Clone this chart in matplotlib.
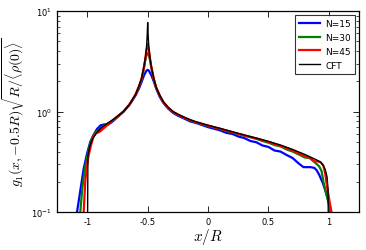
import matplotlib
matplotlib.use("Agg")
import matplotlib.pyplot as plt
from matplotlib.ticker import FixedLocator, FixedFormatter, LogLocator, NullFormatter

plt.rcParams["mathtext.fontset"] = "cm"

# ---- data ----
cft_x = [-1.0, -0.995, -0.985, -0.975, -0.96, -0.95, -0.92, -0.89, -0.85, -0.8, -0.75, -0.7,
         -0.65, -0.6, -0.57, -0.55, -0.53, -0.52, -0.51, -0.505, -0.5,
         -0.495, -0.49, -0.48, -0.47, -0.45, -0.43, -0.4, -0.37, -0.33, -0.29, -0.25,
         -0.2, -0.15, -0.1, -0.05, 0.0, 0.1, 0.2, 0.3, 0.4, 0.5, 0.6, 0.7, 0.8, 0.9,
         0.93, 0.95, 0.97, 0.985, 0.993, 0.998]
cft_y = [0.02, 0.36, 0.42, 0.47, 0.52, 0.55, 0.62, 0.68, 0.74, 0.81, 0.9, 1.0,
         1.18, 1.48, 1.82, 2.15, 2.85, 3.4, 4.3, 5.4, 7.7,
         5.4, 4.3, 3.35, 2.8, 2.15, 1.75, 1.45, 1.25, 1.1, 1.0, 0.94,
         0.88, 0.83, 0.79, 0.76, 0.73, 0.68, 0.63, 0.585, 0.545, 0.505, 0.465, 0.42, 0.375, 0.33,
         0.315, 0.295, 0.265, 0.225, 0.17, 0.05]

n15_x = [-1.11, -1.085, -1.058, -1.03, -1.0, -0.975, -0.95, -0.92, -0.89, -0.86, -0.83, -0.8,
         -0.75, -0.7, -0.65, -0.6, -0.57, -0.55, -0.53, -0.51, -0.5, -0.49, -0.47, -0.45,
         -0.43, -0.4, -0.37, -0.33, -0.29, -0.25, -0.2, -0.15, -0.1, -0.05, 0.0, 0.05, 0.1,
         0.15, 0.2, 0.25, 0.3, 0.35, 0.4, 0.45, 0.5, 0.55, 0.6, 0.65, 0.7, 0.75, 0.79, 0.85,
         0.88, 0.9, 0.92, 0.95, 0.97, 1.0, 1.02, 1.045]
n15_y = [0.075, 0.1, 0.163, 0.27, 0.39, 0.5, 0.58, 0.67, 0.73, 0.745, 0.74, 0.78,
         0.88, 1.0, 1.17, 1.45, 1.72, 1.98, 2.3, 2.55, 2.6, 2.55, 2.3, 2.0,
         1.7, 1.4, 1.22, 1.07, 0.97, 0.91, 0.855, 0.8, 0.77, 0.735, 0.7, 0.675, 0.65,
         0.615, 0.6, 0.565, 0.545, 0.51, 0.495, 0.46, 0.445, 0.41, 0.4, 0.37, 0.345, 0.305, 0.28, 0.28,
         0.275, 0.26, 0.235, 0.195, 0.165, 0.125, 0.1, 0.075]

n30_x = [-1.075, -1.058, -1.04, -1.02, -1.0, -0.98, -0.95, -0.92, -0.9, -0.87, -0.83, -0.8,
         -0.75, -0.7, -0.65, -0.6, -0.57, -0.55, -0.53, -0.52, -0.51, -0.5, -0.49, -0.48,
         -0.47, -0.45, -0.43, -0.4, -0.37, -0.33, -0.29, -0.25, -0.2, -0.15, -0.1, -0.05, 0.0,
         0.1, 0.2, 0.3, 0.4, 0.45, 0.5, 0.55, 0.6, 0.65, 0.7, 0.75, 0.8, 0.84, 0.88, 0.92,
         0.94, 0.955, 0.98, 1.0, 1.025]
n30_y = [0.075, 0.1, 0.18, 0.27, 0.36, 0.46, 0.58, 0.64, 0.66, 0.72, 0.76, 0.8,
         0.89, 1.0, 1.18, 1.47, 1.8, 2.1, 2.75, 3.25, 3.62, 3.8, 3.62, 3.25,
         2.75, 2.1, 1.73, 1.44, 1.24, 1.09, 0.99, 0.93, 0.87, 0.82, 0.78, 0.75, 0.72,
         0.67, 0.62, 0.575, 0.535, 0.51, 0.49, 0.465, 0.45, 0.42, 0.4, 0.375, 0.35, 0.345, 0.315, 0.285,
         0.255, 0.2, 0.15, 0.12, 0.08]

n45_x = [-1.045, -1.03, -1.017, -1.0, -0.99, -0.97, -0.95, -0.93, -0.91, -0.89, -0.86, -0.83,
         -0.8, -0.75, -0.7, -0.65, -0.6, -0.57, -0.55, -0.53, -0.52, -0.51, -0.5, -0.49,
         -0.48, -0.47, -0.45, -0.43, -0.4, -0.37, -0.33, -0.29, -0.25, -0.2, -0.15, -0.1,
         -0.05, 0.0, 0.1, 0.2, 0.3, 0.4, 0.5, 0.6, 0.65, 0.7, 0.75, 0.8, 0.85, 0.88, 0.9,
         0.93, 0.955, 0.97, 0.985, 1.0, 1.035]
n45_y = [0.075, 0.1, 0.2, 0.3, 0.36, 0.46, 0.56, 0.61, 0.62, 0.64, 0.69, 0.74,
         0.8, 0.895, 1.0, 1.18, 1.48, 1.81, 2.13, 2.8, 3.3, 4.1, 4.7, 4.1,
         3.3, 2.78, 2.13, 1.74, 1.44, 1.24, 1.09, 0.995, 0.935, 0.875, 0.825, 0.785,
         0.755, 0.725, 0.675, 0.625, 0.58, 0.54, 0.5, 0.455, 0.435, 0.41, 0.385, 0.36, 0.345, 0.32, 0.32,
         0.315, 0.29, 0.24, 0.18, 0.14, 0.08]

x_ticks = [-1, -0.5, 0, 0.5, 1]
x_tick_labels = ["-1", "-0.5", "0", "0.5", "1"]

# ---- figure ----
fig = plt.figure(figsize=(3.66, 2.51), dpi=100)
ax = fig.add_axes([0.156, 0.151, 0.825, 0.801])

ax.semilogy(n15_x, n15_y, color=(0, 0, 1), lw=1.6, label="N=15")
ax.semilogy(n30_x, n30_y, color=(0, 0.5, 0), lw=1.6, label="N=30")
ax.semilogy(n45_x, n45_y, color=(1, 0, 0), lw=1.6, label="N=45")
ax.semilogy(cft_x, cft_y, color="k", lw=1.0, label="CFT")

ax.set_xlim(-1.25, 1.25)
ax.set_ylim(0.1, 10)
ax.xaxis.set_major_locator(FixedLocator(x_ticks))
ax.xaxis.set_major_formatter(FixedFormatter(x_tick_labels))
ax.yaxis.set_major_locator(LogLocator(base=10))
ax.yaxis.set_minor_locator(LogLocator(base=10, subs=range(2, 10)))
ax.yaxis.set_minor_formatter(NullFormatter())

ax.tick_params(which="both", direction="in", top=True, right=True, labelsize=6)
ax.tick_params(which="major", length=4, width=0.6)
ax.tick_params(which="minor", length=2, width=0.5)
for s in ax.spines.values():
    s.set_linewidth(0.9)

ax.set_xlabel(r"$x/R$", fontsize=11, labelpad=0)
ax.set_ylabel(r"$g_1(x,{-}0.5R)\sqrt{R/\langle\rho(0)\rangle}$", fontsize=10, labelpad=3)

leg = ax.legend(loc="upper right", fontsize=6.5, frameon=True, fancybox=False,
                handlelength=2.3, handletextpad=0.6, borderpad=0.45, labelspacing=0.55,
                borderaxespad=0.4)
leg.get_frame().set_edgecolor("k")
leg.get_frame().set_linewidth(0.8)

fig.savefig("out.png", dpi=100)
